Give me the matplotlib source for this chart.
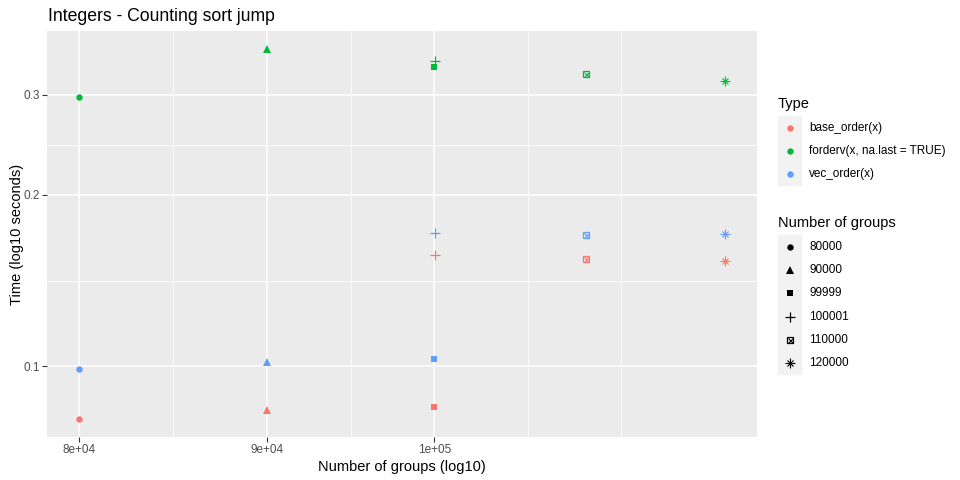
import matplotlib
matplotlib.use("Agg")
import matplotlib.pyplot as plt
from matplotlib.lines import Line2D
from matplotlib.ticker import FixedLocator, NullFormatter

plt.rcParams['font.family'] = ['Liberation Sans', 'DejaVu Sans']

# ---- data ----
groups = [80000, 90000, 99999, 100001, 110000, 120000]
group_labels = ["80000", "90000", "99999", "100001", "110000", "120000"]
types = ["base_order(x)", "forderv(x, na.last = TRUE)", "vec_order(x)"]
base_times = [0.0810, 0.0838, 0.0847, 0.1566, 0.1542, 0.1530]
forderv_times = [0.297, 0.360, 0.3355, 0.3435, 0.3256, 0.3166]
vec_times = [0.0988, 0.1016, 0.1029, 0.1716, 0.1698, 0.1710]
x_ticks = [80000, 90000, 100000]
x_tick_labels = ["8e+04", "9e+04", "1e+05"]
x_minor = [84853, 94868, 106050, 112460]
y_ticks = [0.1, 0.2, 0.3]
y_tick_labels = ["0.1", "0.2", "0.3"]
y_minor = [0.1414, 0.2449]

colors = ["#F8766D", "#00BA38", "#619CFF"]
series = [base_times, forderv_times, vec_times]

W, H = 960, 480
fig = plt.figure(figsize=(9.6, 4.8), dpi=100)
ax = fig.add_axes([47 / W, 1 - 437 / H, (757 - 47) / W, (437 - 31) / H])
ax.set_facecolor("#EBEBEB")
ax.set_xscale("log")
ax.set_yscale("log")

# limits with ggplot 5% expansion in log space
import numpy as np
lx = np.log10([min(groups), max(groups)])
dx = (lx[1] - lx[0]) * 0.05
ax.set_xlim(10 ** (lx[0] - dx), 10 ** (lx[1] + dx))
allv = base_times + forderv_times + vec_times
ly = np.log10([min(allv), max(allv)])
dy = (ly[1] - ly[0]) * 0.05
ax.set_ylim(10 ** (ly[0] - dy), 10 ** (ly[1] + dy))

# grid
for xv in x_minor:
    ax.axvline(xv, color="white", lw=0.55, zorder=0)
for xv in x_ticks:
    ax.axvline(xv, color="white", lw=1.1, zorder=0)
for yv in y_minor:
    ax.axhline(yv, color="white", lw=0.55, zorder=0)
for yv in y_ticks:
    ax.axhline(yv, color="white", lw=1.1, zorder=0)

ax.xaxis.set_major_locator(FixedLocator(x_ticks))
ax.xaxis.set_minor_locator(FixedLocator([]))
ax.set_xticklabels(x_tick_labels)
ax.xaxis.set_minor_formatter(NullFormatter())
ax.yaxis.set_major_locator(FixedLocator(y_ticks))
ax.yaxis.set_minor_locator(FixedLocator([]))
ax.set_yticklabels(y_tick_labels)
ax.yaxis.set_minor_formatter(NullFormatter())
ax.tick_params(axis="both", length=3.3, width=0.8, color="#333333",
               labelsize=8.5, labelcolor="#4D4D4D", pad=2)
for s in ax.spines.values():
    s.set_visible(False)


def draw_marker(axh, x, y, idx, color, scale=1.0):
    z = 3
    if idx == 0:
        axh.plot([x], [y], marker="o", ms=4.6 * scale, color=color, mew=0, ls="none", zorder=z)
    elif idx == 1:
        axh.plot([x], [y], marker="^", ms=5.6 * scale, color=color, mew=0, ls="none", zorder=z)
    elif idx == 2:
        axh.plot([x], [y], marker="s", ms=4.4 * scale, color=color, mew=0, ls="none", zorder=z)
    elif idx == 3:
        axh.plot([x], [y], marker="+", ms=6.5 * scale, color=color, mew=0.9, ls="none", zorder=z)
    elif idx == 4:
        axh.plot([x], [y], marker="s", ms=4.6 * scale, mfc="none", mec=color, mew=0.9, ls="none", zorder=z)
        axh.plot([x], [y], marker="x", ms=3.6 * scale, color=color, mew=0.8, ls="none", zorder=z)
    elif idx == 5:
        axh.plot([x], [y], marker="+", ms=6.5 * scale, color=color, mew=0.8, ls="none", zorder=z)
        axh.plot([x], [y], marker="x", ms=4.8 * scale, color=color, mew=0.8, ls="none", zorder=z)


for vals, col in zip(series, colors):
    for i, (g, v) in enumerate(zip(groups, vals)):
        draw_marker(ax, g, v, i, col)

# titles
fig.text(48 / W, 1 - 21 / H, "Integers - Counting sort jump", fontsize=12.7,
         color="black", ha="left", va="baseline")
fig.text(402 / W, 1 - 471 / H, "Number of groups (log10)", fontsize=10.5,
         ha="center", va="baseline")
fig.text(17 / W, 1 - 234 / H, "Time (log10 seconds)", fontsize=10.5,
         rotation=90, ha="center", va="center")

# ---- legends (manual, ggplot style) ----
lax = fig.add_axes([0, 0, 1, 1], facecolor="none")
lax.set_xlim(0, W)
lax.set_ylim(H, 0)
lax.axis("off")

lax.text(778, 108, "Type", fontsize=10.5, ha="left", va="baseline")
lax.add_patch(plt.Rectangle((778, 116), 23, 69, color="#F2F2F2", zorder=1))
type_rows = [127.7, 151, 174]
for t, col, yy in zip(types, colors, type_rows):
    lax.plot([789.5], [yy], marker="o", ms=4.6, color=col, mew=0, ls="none", zorder=3)
    lax.text(809, yy, t, fontsize=8.5, ha="left", va="center")

lax.text(778, 227, "Number of groups", fontsize=10.5, ha="left", va="baseline")
lax.add_patch(plt.Rectangle((778, 235), 23, 139, color="#F2F2F2", zorder=1))
grp_rows = [247.3, 270.3, 293.3, 316.7, 339.7, 362.7]
for i, (lab, yy) in enumerate(zip(group_labels, grp_rows)):
    draw_marker(lax, 789.5, yy, i, "black")
    lax.text(809, yy, lab, fontsize=8.5, ha="left", va="center")

fig.savefig("out.png", dpi=100, facecolor="white")
